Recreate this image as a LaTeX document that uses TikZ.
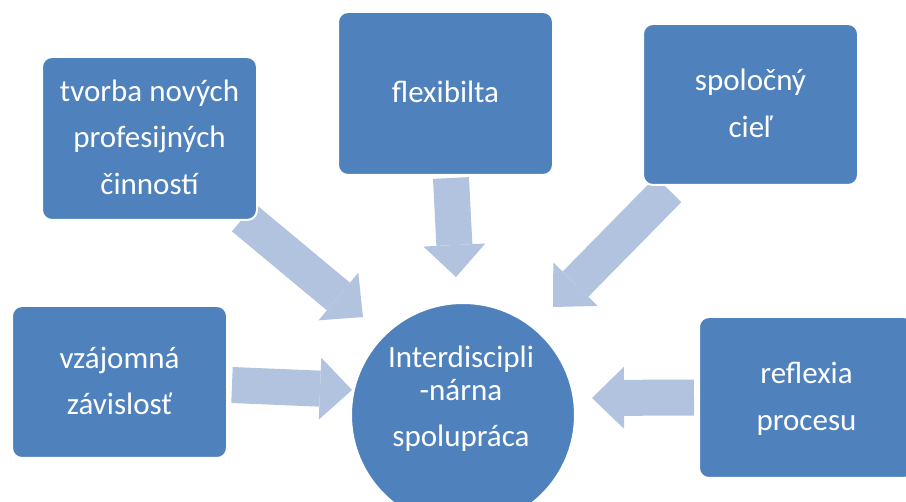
\documentclass[tikz,border=0pt]{standalone}
\usepackage{fontspec}
\setmainfont{Carlito}
\usetikzlibrary{arrows.meta}
\definecolor{boxblue}{HTML}{4F81BD}
\definecolor{arrowblue}{HTML}{B1C3DF}
\pgfdeclarelayer{bg}
\pgfsetlayers{bg,main}
\begin{document}
\begin{tikzpicture}[x=1pt,y=-1pt,
  txt/.style={text=white, font=\fontsize{31}{46.5}\selectfont, align=center},
  box/.style={txt, rectangle, rounded corners=10pt, fill=boxblue, draw=white, line width=2pt, minimum width=215pt, inner sep=0pt},
  hub/.style={circle, fill=boxblue, draw=white, line width=2pt, minimum size=224pt, inner sep=0pt},
  flow/.style={arrowblue, line width=36pt, -{Triangle[length=32pt,width=62pt,line width=0pt]}}]
\clip (0,0) rectangle (906,502);
\useasboundingbox (0,0) rectangle (906,502);
% nodes
\node[box, minimum height=163pt] (b1) at (149.5,138.5) {\strut tvorba nových\\profesijných\\činností\strut};
\node[box, minimum height=163pt] (b2) at (445.5,93.5) {\strut flexibilta\strut};
\node[box, minimum height=161pt] (b3) at (750.5,104.5) {\strut spoločný\\cieľ\strut};
\node[box, minimum height=152pt] (b4) at (119.5,382) {\strut vzájomná\\závislosť\strut};
\node[box, minimum height=161pt] (b5) at (806.5,397.5) {\strut reflexia\\procesu\strut};
\node[hub] (hub) at (463,415) {};
\node[txt] (hubtext) at (461,398) {\strut Interdiscipli\\[-13.8pt]-nárna\\spolupráca\strut};
% arrow ends
\coordinate (a1s) at (243.5,217.5);
\coordinate (a1e) at (363,317);
\coordinate (a2s) at (451,178);
\coordinate (a2e) at (456,277);
\coordinate (a3s) at (668.5,189.5);
\coordinate (a3e) at (553,307);
\coordinate (a4s) at (232,385);
\coordinate (a4e) at (352,390);
\coordinate (a5s) at (694,397.5);
\coordinate (a5e) at (592,398);
\begin{pgfonlayer}{bg}
\fill[white] (0,0) rectangle (906,502);
\draw[flow] (a1s) -- (a1e);
\draw[flow] (a2s) -- (a2e);
\draw[flow] (a3s) -- (a3e);
\draw[flow] (a4s) -- (a4e);
\draw[flow] (a5s) -- (a5e);
\end{pgfonlayer}
\end{tikzpicture}
\end{document}
